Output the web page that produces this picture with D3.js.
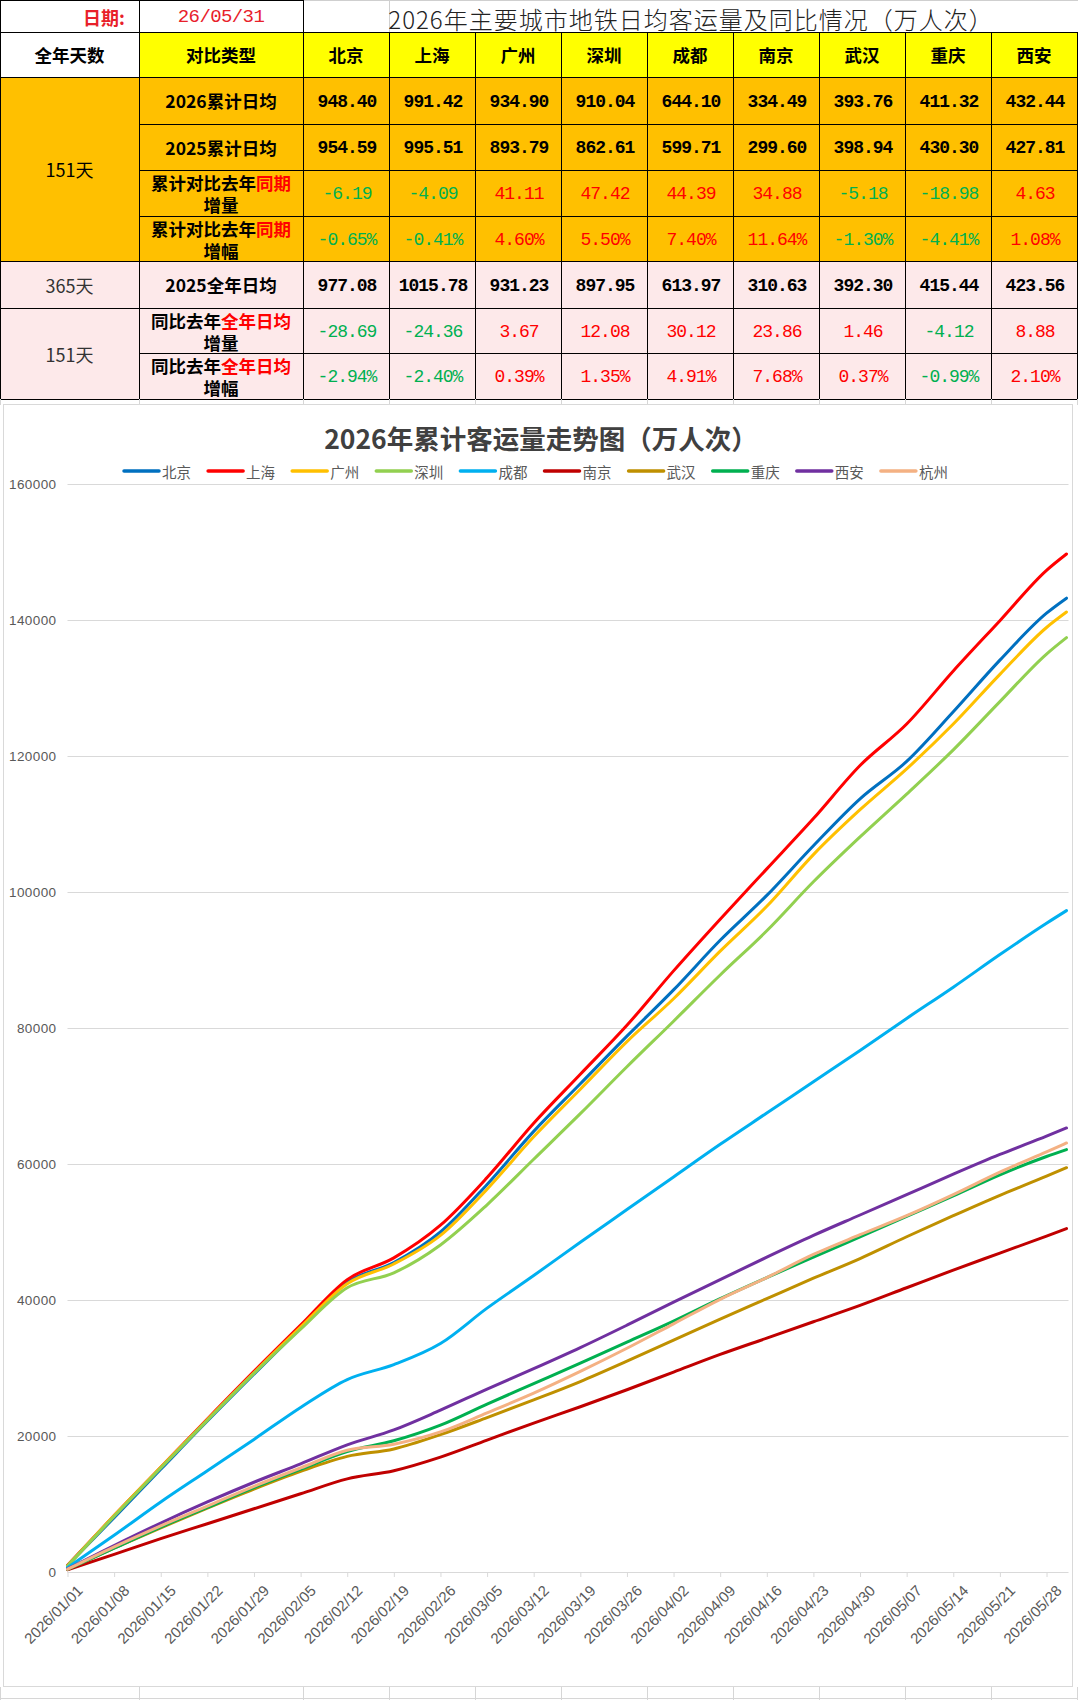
<!DOCTYPE html>
<html><head><meta charset="utf-8">
<script src="https://cdn.jsdelivr.net/npm/d3@7"></script>
<style>body{margin:0;background:#fff}svg{display:block}</style>
</head><body>
<svg id="c" width="1078" height="1700"></svg>
<script>
// ---------- table data ----------
const dateLabel = "26/05/31";
const tableTitle = "2026年主要城市地铁日均客运量及同比情况（万人次）";
const cities = ["北京","上海","广州","深圳","成都","南京","武汉","重庆","西安"];
const avg2026 = [948.40, 991.42, 934.90, 910.04, 644.10, 334.49, 393.76, 411.32, 432.44];
const avg2025ytd = [954.59, 995.51, 893.79, 862.61, 599.71, 299.60, 398.94, 430.30, 427.81];
const ytdDiff = [-6.19, -4.09, 41.11, 47.42, 44.39, 34.88, -5.18, -18.98, 4.63];
const ytdPct = [-0.65, -0.41, 4.60, 5.50, 7.40, 11.64, -1.30, -4.41, 1.08];
const avg2025full = [977.08, 1015.78, 931.23, 897.95, 613.97, 310.63, 392.30, 415.44, 423.56];
const fullDiff = [-28.69, -24.36, 3.67, 12.08, 30.12, 23.86, 1.46, -4.12, 8.88];
const fullPct = [-2.94, -2.40, 0.39, 1.35, 4.91, 7.68, 0.37, -0.99, 2.10];

// ---------- chart data ----------
const chartTitle = "2026年累计客运量走势图（万人次）";
const seriesNames = ["北京","上海","广州","深圳","成都","南京","武汉","重庆","西安","杭州"];
const seriesColors = ["#0070C0","#FF0000","#FFC000","#92D050","#00B0F0","#C00000","#BF9000","#00B050","#7030A0","#F4B183"];
const sampleDays = [0,7,14,21,28,35,42,49,56,63,70,77,84,91,98,105,112,119,126,133,140,147,150];
const tickDays = [0,7,14,21,28,35,42,49,56,63,70,77,84,91,98,105,112,119,126,133,140,147];
const tickLabels = ["2026/01/01","2026/01/08","2026/01/15","2026/01/22","2026/01/29","2026/02/05","2026/02/12","2026/02/19","2026/02/26","2026/03/05","2026/03/12","2026/03/19","2026/03/26","2026/04/02","2026/04/09","2026/04/16","2026/04/23","2026/04/30","2026/05/07","2026/05/14","2026/05/21","2026/05/28"];
const yTickValues = [0,20000,40000,60000,80000,100000,120000,140000,160000];
const bj = [950,8000,15100,22200,29100,35900,42600,45500,50000,57000,64800,71800,78800,85600,92900,99500,106800,113700,119200,126500,134100,141000,143208];
const sh = [1000,8300,15400,22500,29500,36300,43000,46200,51000,58000,66000,73200,80400,88400,96000,103400,110800,118600,124700,132500,139900,147300,149704];
const gz = [900,8300,15400,22400,29300,36000,42400,45300,49500,56300,64000,71000,78000,84300,91300,97900,105500,112100,118100,124700,132000,138900,141170];
const sz = [900,8200,15300,22300,29200,35700,41800,44000,48100,54000,60700,67400,74300,81000,87800,94300,101500,108100,114400,120900,128000,135000,137416];
const cd = [650,5400,10300,14900,19500,24200,28300,30500,33600,38800,43600,48500,53300,58100,62900,67500,72100,76700,81400,86000,90800,95400,97259];
const nj = [330,2600,4900,7100,9300,11500,13700,14900,16900,19400,21900,24300,26800,29400,32000,34400,36800,39200,41800,44400,46900,49400,50508];
const wh = [400,3500,6500,9400,12200,14800,17000,18100,20200,22700,25300,28000,31000,34100,37200,40200,43200,46100,49300,52400,55400,58200,59458];
const cq = [400,3500,6600,9500,12400,15100,17700,19300,21600,24700,27700,30700,33800,36900,40200,43300,46300,49300,52300,55300,58400,61100,62109];
const xa = [450,3900,7200,10300,13200,15900,18700,20900,23800,26900,29900,33000,36300,39700,43000,46300,49500,52500,55500,58500,61400,64100,65298];
const hz = [400,3700,6800,9700,12600,15300,17900,18800,20600,23400,26300,29500,32900,36500,40100,43300,46700,49600,52400,55500,58800,61800,63090];
const seriesData = [bj, sh, gz, sz, cd, nj, wh, cq, xa, hz];

// ---------- drawing ----------
const svg = d3.select("#c");
const CJK = "'Noto Sans CJK SC','Noto Sans',sans-serif";
const MONO = "'Liberation Mono','DejaVu Sans Mono',monospace";
const SANS = "'Liberation Sans','Noto Sans CJK SC',sans-serif";
const RED = "#FF0000", GREEN = "#00B050";

const rowY = [0,32,77,124,170,216,261,308,353,399];
const colX = [0,139,303].concat(d3.range(1,10).map(i=>303+86*i));

const T = svg.append("g");
// background spreadsheet grid strips
const grid = svg.append("g").attr("stroke","#D6D6D6").attr("stroke-width",1);
colX.forEach(cx=>{
  grid.append("line").attr("x1",cx+0.5).attr("x2",cx+0.5).attr("y1",399).attr("y2",405);
  grid.append("line").attr("x1",cx+0.5).attr("x2",cx+0.5).attr("y1",1687).attr("y2",1700);
});
grid.append("line").attr("x1",0).attr("x2",1078).attr("y1",1698.5).attr("y2",1698.5);

// fills
for (let r=0;r<9;r++) for (let c=0;c<11;c++){
  const f = r===0 ? "#FFFFFF" : r===1 ? (c===0?"#FFFFFF":"#FFFF00") : r<=5 ? "#FFC000" : "#FDE9EA";
  T.append("rect").attr("x",colX[c]).attr("y",rowY[r]).attr("width",colX[c+1]-colX[c]+1).attr("height",rowY[r+1]-rowY[r]+1).attr("fill",f);
}
// borders
const hl=(x1,x2,yy,col)=>T.append("line").attr("x1",x1).attr("x2",x2).attr("y1",yy+0.5).attr("y2",yy+0.5).attr("stroke",col);
const vl=(xx,y1,y2,col)=>T.append("line").attr("x1",xx+0.5).attr("x2",xx+0.5).attr("y1",y1).attr("y2",y2).attr("stroke",col);
hl(0,303,0,"#000"); hl(303,1078,0,"#CFCFCF");
vl(389,0,32,"#D0D0D0");
[1,2,6,7,9].forEach(r=>hl(0,1078,rowY[r],"#000"));
[3,4,5,8].forEach(r=>hl(139,1078,rowY[r],"#000"));
[0,1,2].forEach(c=>vl(colX[c],0,33,"#000"));
colX.forEach(cx=>vl(cx,32,400,"#000"));

// texts helper
function txt(xx,yy,s,o={}){
  return T.append("text").attr("x",xx).attr("y",yy).attr("text-anchor","middle")
    .attr("dominant-baseline","central").attr("font-family",o.ff||CJK)
    .attr("font-size",o.fs||17.5).attr("font-weight",o.fw||400).attr("fill",o.fill||"#000")
    .attr("letter-spacing",o.ls||0).text(s);
}
const rc = r => (rowY[r]+rowY[r+1])/2;
const cc = c => (colX[c]+colX[c+1])/2;

txt(104,rc(0)+1,"日期:",{fw:700,fill:"#E8202A",fs:18});
txt(cc(1),rc(0)+1,dateLabel,{ff:MONO,fs:19,fill:"#E8202A",ls:-0.6});
txt(691,rc(0)+2,tableTitle,{fs:24,fw:300,fill:"#222",ls:1.0});

txt(cc(0),rc(1),"全年天数",{fw:700});
txt(cc(1),rc(1),"对比类型",{fw:700});
cities.forEach((n,i)=>txt(cc(i+2),rc(1),n,{fw:700}));

txt(cc(0),(rowY[2]+rowY[6])/2,"151天",{fs:18});
txt(cc(0),rc(6),"365天",{fs:18,fill:"#333"});
txt(cc(0),(rowY[7]+rowY[9])/2,"151天",{fs:18,fill:"#333"});

function twoLine(r,a,red,b){
  const t = T.append("text").attr("x",cc(1)).attr("text-anchor","middle").attr("font-family",CJK)
    .attr("font-size",17.5).attr("font-weight",700).attr("dominant-baseline","central");
  t.append("tspan").attr("x",cc(1)).attr("y",rc(r)-11).text(a);
  t.append("tspan").attr("fill",RED).text(red);
  t.append("tspan").attr("x",cc(1)).attr("y",rc(r)+11).text(b);
}
txt(cc(1),rc(2),"2026累计日均",{fw:700});
txt(cc(1),rc(3),"2025累计日均",{fw:700});
twoLine(4,"累计对比去年","同期","增量");
twoLine(5,"累计对比去年","同期","增幅");
txt(cc(1),rc(6),"2025全年日均",{fw:700});
twoLine(7,"同比去年","全年日均","增量");
twoLine(8,"同比去年","全年日均","增幅");

const valueRows = [
  {r:2, v:avg2026, plain:true},
  {r:3, v:avg2025ytd, plain:true},
  {r:4, v:ytdDiff},
  {r:5, v:ytdPct, pct:true},
  {r:6, v:avg2025full, plain:true},
  {r:7, v:fullDiff},
  {r:8, v:fullPct, pct:true}
];
valueRows.forEach(row=>{
  row.v.forEach((val,i)=>{
    const s = val.toFixed(2)+(row.pct?"%":"");
    const fill = row.plain ? "#000" : (val<0?GREEN:RED);
    txt(cc(i+2)+1,rc(row.r)+1,s,{ff:MONO,fs:18,fw:row.plain?700:400,fill,ls:-1});
  });
});

// ---------- chart ----------
svg.append("rect").attr("x",3.5).attr("y",404.5).attr("width",1069).attr("height",1282)
  .attr("fill","#fff").attr("stroke","#D9D9D9");

svg.append("text").attr("x",541).attr("y",437).attr("text-anchor","middle").attr("dominant-baseline","central")
  .attr("font-family",CJK).attr("font-size",26.5).attr("font-weight",700).attr("fill","#404040").text(chartTitle);

const x = d3.scaleLinear().domain([0,150]).range([67.5,1066.5]);
const y = d3.scaleLinear().domain([0,160000]).range([1572,484]);
const plot = svg.append("g");

const gy = plot.append("g").attr("transform","translate(67.5,0)")
  .call(d3.axisLeft(y).tickValues(yTickValues).tickSize(-1001).tickPadding(11).tickFormat(d=>String(d)));
gy.select(".domain").remove();
gy.selectAll(".tick line").attr("stroke","#D9D9D9");
gy.attr("font-family",SANS).attr("font-size",13.5);
gy.selectAll(".tick text").attr("fill","#595959").attr("letter-spacing",0.4);

const gx = plot.append("g").attr("transform","translate(0,1572)")
  .call(d3.axisBottom(x).tickValues(tickDays).tickSize(5).tickSizeOuter(0).tickFormat((d,i)=>tickLabels[i]));
gx.select(".domain").attr("stroke","#D9D9D9");
gx.selectAll(".tick line").attr("stroke","#D9D9D9");
gx.attr("font-family",SANS).attr("font-size",15);
gx.selectAll(".tick text").attr("fill","#595959").attr("text-anchor","end")
  .attr("x",0).attr("y",0).attr("dy","0.35em").attr("transform","translate(12,16) rotate(-45)");

const line = d3.line().x((d,i)=>x(sampleDays[i])).y(d=>y(d)).curve(d3.curveMonotoneX);
seriesData.forEach((s,k)=>{
  plot.append("path").attr("d",line(s)).attr("fill","none").attr("stroke",seriesColors[k])
    .attr("stroke-width",3).attr("stroke-linejoin","round").attr("stroke-linecap","round");
});

// legend
const lg = svg.append("g");
seriesNames.forEach((n,i)=>{
  const lx = 124 + i*84.1;
  lg.append("line").attr("x1",lx).attr("x2",lx+35).attr("y1",471).attr("y2",471)
    .attr("stroke",seriesColors[i]).attr("stroke-width",3.5).attr("stroke-linecap","round");
  lg.append("text").attr("x",lx+38).attr("y",471).attr("dominant-baseline","central")
    .attr("font-family",CJK).attr("font-size",14.5).attr("fill","#595959").text(n);
});
</script>
</body></html>
